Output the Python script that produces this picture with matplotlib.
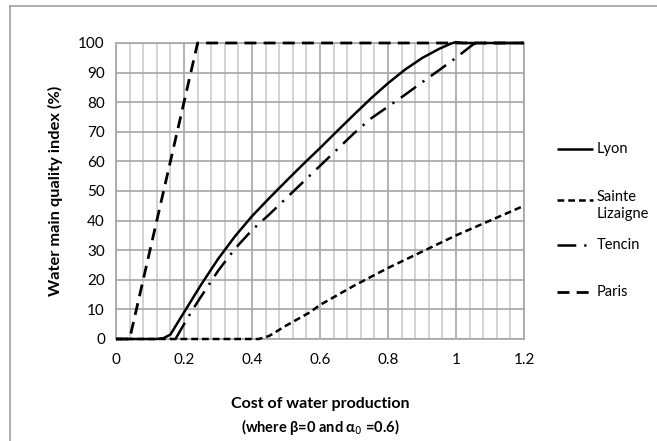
import matplotlib
matplotlib.use("Agg")
import matplotlib.pyplot as plt
from matplotlib.lines import Line2D
import numpy as np

plt.rcParams['font.family'] = ['Lato', 'DejaVu Sans']

# Cost of water production (x) vs water main quality index in % (y)
lyon_x = [0.0, 0.12, 0.14, 0.16, 0.2, 0.25, 0.3, 0.35, 0.4, 0.45, 0.5, 0.55, 0.6, 0.65,
          0.7, 0.75, 0.8, 0.85, 0.9, 0.95, 0.985, 1.0, 1.02, 1.2]
lyon_y = [0.0, 0.0, 0.3, 1.5, 9.0, 18.3, 27.0, 34.7, 41.5, 47.5, 53.3, 59.0, 64.5, 70.2,
          75.8, 81.3, 86.4, 91.0, 94.9, 98.0, 99.8, 100.3, 100.0, 100.0]

lizaigne_x = [0.0, 0.42, 0.45, 0.5, 0.57, 0.6, 0.7, 0.8, 0.9, 1.0, 1.1, 1.2]
lizaigne_y = [0.0, 0.0, 1.0, 4.5, 9.0, 11.5, 18.0, 24.0, 29.5, 35.0, 40.0, 45.0]

tencin_x = [0.175, 0.2, 0.226, 0.25, 0.3, 0.35, 0.4, 0.45, 0.5, 0.55, 0.6, 0.65, 0.7,
            0.75, 0.8, 0.85, 0.9, 0.95, 1.0, 1.05, 1.06, 1.2]
tencin_y = [0.0, 5.0, 10.0, 14.3, 23.0, 30.5, 36.8, 42.0, 47.5, 53.0, 58.5, 64.0, 69.5,
            74.5, 78.5, 82.5, 86.7, 90.8, 95.0, 99.5, 100.0, 100.0]

paris_x = [0.0, 0.04, 0.24, 1.2]
paris_y = [0.0, 0.0, 100.0, 100.0]

series_names = ["Lyon", "Sainte\nLizaigne", "Tencin", "Paris"]

x_ticks = [0, 0.2, 0.4, 0.6, 0.8, 1.0, 1.2]
x_tick_labels = ["0", "0.2", "0.4", "0.6", "0.8", "1", "1.2"]
y_ticks = list(range(0, 101, 10))

W, H = 657, 441
fig = plt.figure(figsize=(W / 100, H / 100), dpi=100)
ax = fig.add_axes([116 / W, 1 - 339 / H, (524 - 116) / W, (339 - 43) / H])

styles = [
    dict(color="black", lw=1.8, linestyle="-"),
    dict(color="black", lw=1.8, dashes=(2.7, 1.6)),
    dict(color="black", lw=1.8, dashes=(7.5, 3.2, 0.9, 3.2)),
    dict(color="black", lw=2.0, dashes=(4.3, 2.6)),
]
data = [(lyon_x, lyon_y), (lizaigne_x, lizaigne_y), (tencin_x, tencin_y), (paris_x, paris_y)]
for (xs, ys), st in zip(data, styles):
    ax.plot(xs, ys, solid_capstyle="butt", dash_capstyle="butt",
            solid_joinstyle="round", zorder=3, clip_on=False, **st)

ax.set_xlim(0, 1.2)
ax.set_ylim(0, 100)
ax.set_xticks(x_ticks)
ax.set_xticklabels(x_tick_labels)
ax.set_yticks(y_ticks)
ax.set_xticks(np.arange(0, 1.2001, 0.04), minor=True)

major_grey = "#a6a6a6"
minor_grey = "#cccccc"
ax.grid(True, which="minor", axis="x", color=minor_grey, lw=1.2, zorder=0)
ax.grid(True, which="major", axis="x", color=major_grey, lw=1.2, zorder=1)
ax.grid(True, which="major", axis="y", color=major_grey, lw=1.2, zorder=1)
ax.set_axisbelow(True)
for s in ax.spines.values():
    s.set_color(major_grey)
    s.set_linewidth(1.2)
ax.tick_params(which="both", length=0, labelsize=11, colors="black")
ax.tick_params(axis="x", pad=10)
ax.tick_params(axis="y", pad=8)

ax.set_xlabel("Cost of water production", fontsize=11.5, fontweight="bold", labelpad=22)
fig.text(320 / W, 1 - 427 / H, "(where β=0 and α$_0$ =0.6)", fontsize=10.5,
         fontweight="bold", ha="center", va="center")
ax.set_ylabel("Water main quality index (%)", fontsize=11.8, fontweight="bold", labelpad=11)

# Legend keys drawn beside the plot
leg_y = [149, 200, 245, 292]
for name, st, yy in zip(series_names, styles, leg_y):
    fy = 1 - yy / H
    fig.add_artist(Line2D([557 / W, 593 / W], [fy, fy], transform=fig.transFigure,
                          solid_capstyle="butt", dash_capstyle="butt", **st))
    if "\n" in name:
        fig.text(597 / W, 1 - (yy - 10) / H, name, fontsize=10.5, va="top",
                 ha="left", linespacing=1.3)
    else:
        fig.text(597 / W, fy, name, fontsize=10.5, va="center", ha="left")

# Chart frame
frame = "#a0a0a0"
fig.add_artist(Line2D([10 / W, 10 / W], [0, 1 - 6 / H], color=frame, lw=1.2,
                      transform=fig.transFigure))
fig.add_artist(Line2D([10 / W, 1], [1 - 6 / H, 1 - 6 / H], color=frame, lw=1.2,
                      transform=fig.transFigure))

fig.savefig("out.png", dpi=100)
